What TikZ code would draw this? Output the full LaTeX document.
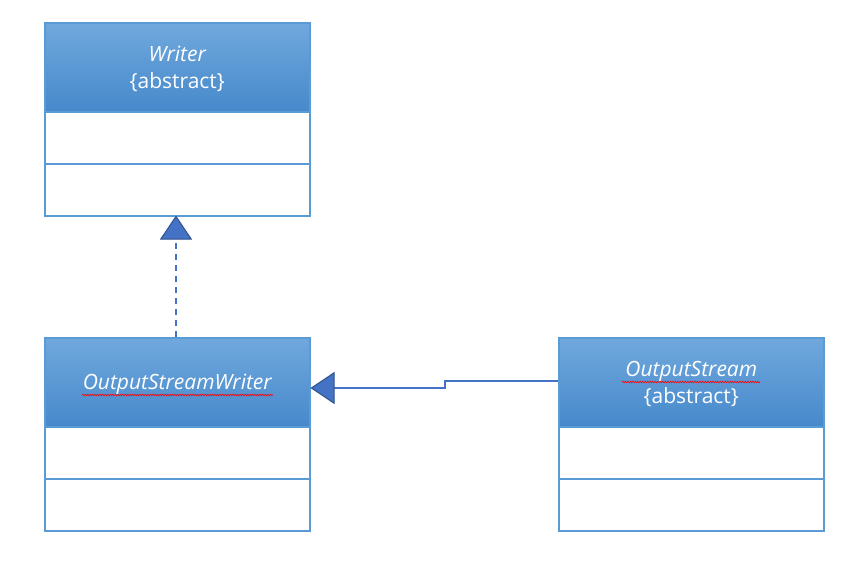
\documentclass[tikz,border=0pt]{standalone}
\usepackage{fontspec}
\setmainfont{Open Sans}
\usetikzlibrary{arrows.meta,decorations.pathmorphing}
\definecolor{hdtop}{RGB}{112,168,221}
\definecolor{hdbot}{RGB}{70,137,203}
\definecolor{bord}{RGB}{91,155,213}
\definecolor{arrowfill}{RGB}{68,114,196}
\definecolor{arrowdraw}{RGB}{47,82,143}
\begin{document}
\begin{tikzpicture}[x=1pt,y=-1pt,
  header/.style={draw=bord,line width=1.5pt,top color=hdtop,bottom color=hdbot,
    minimum width=265pt,minimum height=89pt,inner sep=0pt,anchor=north west},
  txt/.style={text=white,font=\fontsize{21}{27}\selectfont,align=center,inner sep=0pt},
  row/.style={draw=bord,line width=1.5pt,fill=white,minimum width=265pt,
    minimum height=52pt,inner sep=0pt,anchor=north west},
  conn/.style={draw=arrowfill,line width=1.4pt},
  tri/.style={-{Triangle[open=false,length=24pt,width=32pt,fill=arrowfill,color=arrowdraw,line width=1pt]}},
  spell/.style={draw=red,line width=0.6pt,decorate,decoration={snake,amplitude=0.8pt,segment length=2.5pt}}]
\useasboundingbox (0,0) rectangle (868,560);
% Writer
\node[header] (wh) at (44,22) {};
\node[txt] (wt) at ([yshift=-2pt]wh.center) {\itshape Writer\\\{abstract\}};
\node[row] (wr1) at (44,111) {};
\node[row] (wr2) at (44,163) {};
% OutputStreamWriter
\node[header] (oh) at (44,337) {};
\node[txt] (ot) at ([yshift=-2pt]oh.center) {\itshape OutputStreamWriter};
\node[row] (or1) at (44,426) {};
\node[row] (or2) at (44,478) {};
% OutputStream
\node[header] (sh) at (558,337) {};
\node[txt] (st) at ([yshift=-2pt]sh.center) {\itshape OutputStream\\\{abstract\}};
\node[row] (sr1) at (558,426) {};
\node[row] (sr2) at (558,478) {};
% spell-check underlines
\coordinate (u1a) at (82,395); \coordinate (u1b) at (273,395);
\draw[spell] (u1a) -- (u1b);
\coordinate (u2a) at (622,382); \coordinate (u2b) at (760,382);
\draw[spell] (u2a) -- (u2b);
% realization arrow
\draw[conn,dash pattern=on 6pt off 5pt,tri] (oh.north -| 176,0) -- ([yshift=1pt]wr2.south -| 176,0);
% association arrow
\coordinate (bend1) at (445,381);
\coordinate (bend2) at (445,388);
\draw[conn,tri] (sh.west |- 0,381) -- (bend1) -- (bend2) -- (oh.east |- 0,388);
\end{tikzpicture}
\end{document}
